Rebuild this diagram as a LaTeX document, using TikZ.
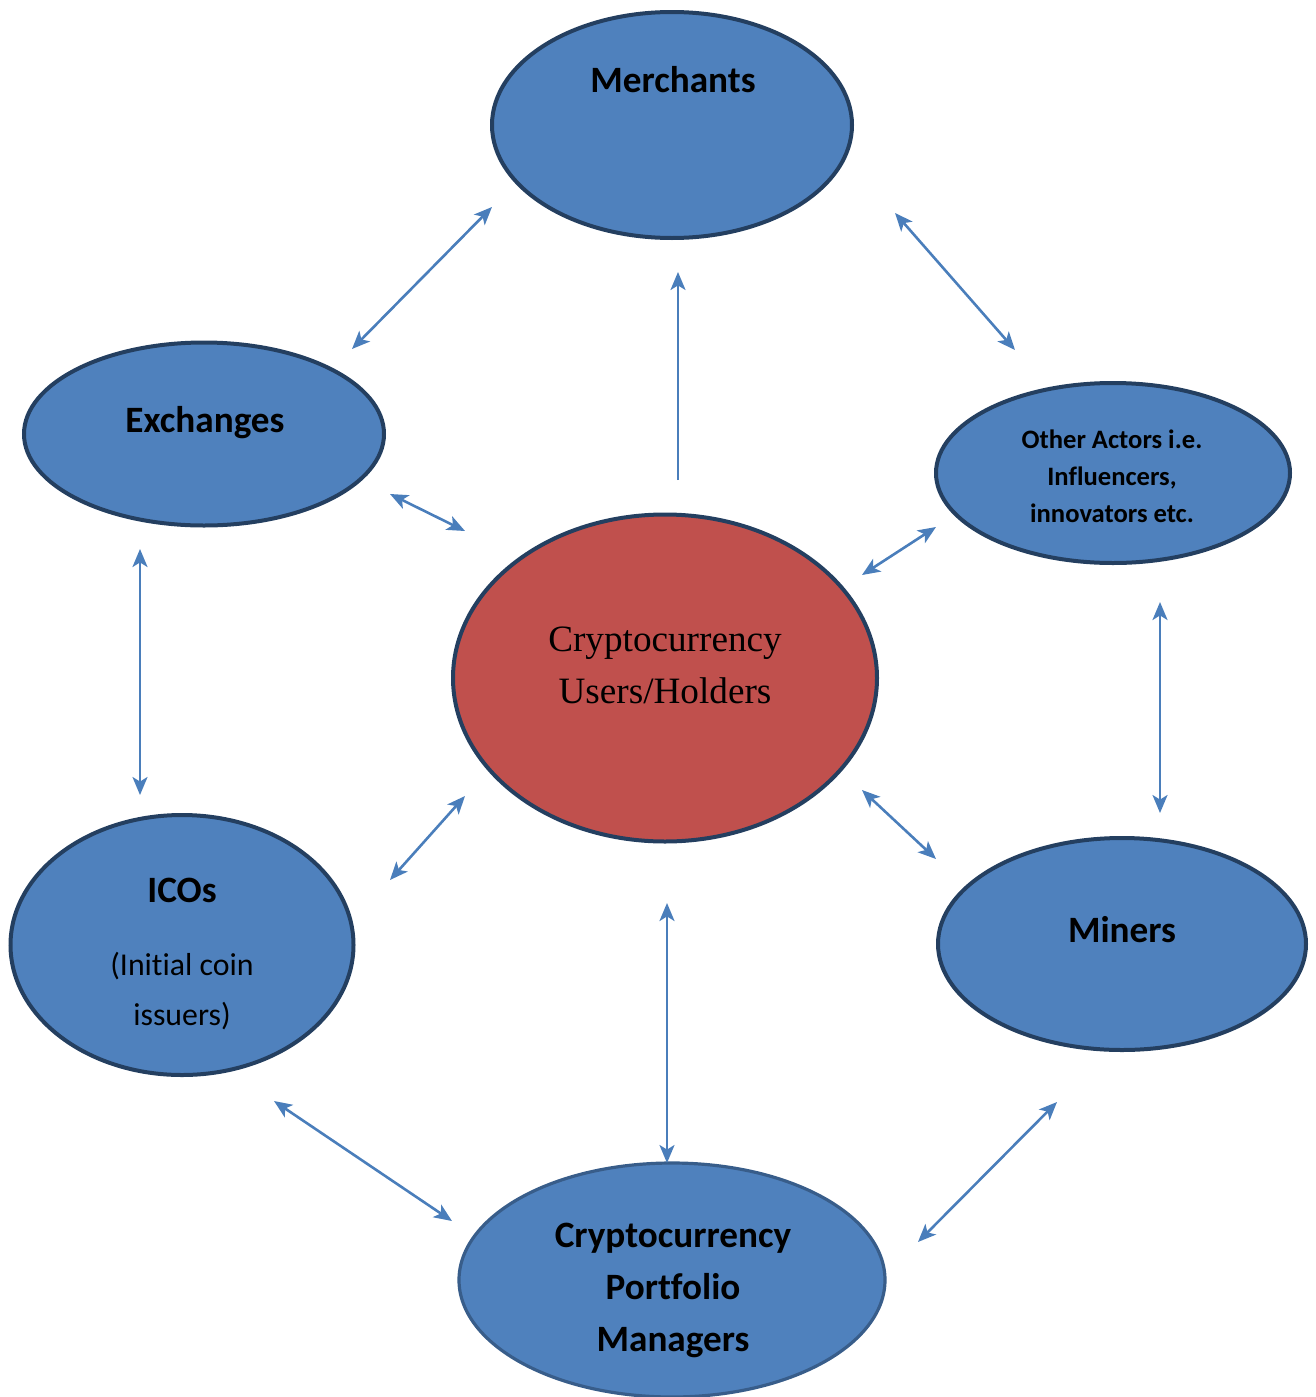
\documentclass[tikz,border=0pt]{standalone}
\usepackage{fontspec}
\setmainfont{Carlito}[Ligatures={NoCommon}]
\newfontfamily\serifcj{Liberation Serif}
\usetikzlibrary{shapes.geometric,arrows.meta}
\definecolor{fillblue}{HTML}{4F81BD}
\definecolor{fillred}{HTML}{C0504D}
\definecolor{edgedark}{HTML}{243F60}
\definecolor{edgemid}{HTML}{385D8A}
\definecolor{arrowblue}{HTML}{4A7EBB}
\tikzset{
  actor/.style={ellipse, draw=edgedark, line width=2pt, fill=fillblue, inner sep=0pt},
  bigtxt/.style={font=\bfseries\fontsize{18.6pt}{26pt}\selectfont, align=center, inner sep=0pt},
  link/.style={draw=arrowblue, line width=1.3pt, {Stealth[length=9pt,width=7.5pt,inset=2.3pt]}-{Stealth[length=9pt,width=7.5pt,inset=2.3pt]}},
  onelink/.style={draw=arrowblue, line width=1.3pt, -{Stealth[length=9pt,width=7.5pt,inset=2.3pt]}}
}
\begin{document}
\begin{tikzpicture}[x=0.5pt,y=-0.5pt]
\useasboundingbox (0,0) rectangle (1316,1397);
% ellipses
\node[actor, minimum width=180pt, minimum height=113pt] (merch) at (672,125) {};
\node[actor, minimum width=180pt, minimum height=91.5pt] (exch) at (204,434) {};
\node[actor, minimum width=177pt, minimum height=90pt] (other) at (1113,473) {};
\node[actor, fill=fillred, minimum width=212pt, minimum height=163.5pt] (users) at (665,678) {};
\node[actor, minimum width=171.5pt, minimum height=130pt] (icos) at (182,945) {};
\node[actor, minimum width=184pt, minimum height=106pt] (miners) at (1122,944) {};
\node[actor, draw=edgemid, line width=1.6pt, minimum width=213pt, minimum height=117pt] (port) at (672,1280) {};
% texts
\node[bigtxt] (tmerch) at (673,80) {Merchants};
\node[bigtxt] (texch) at (205,423) {Exchanges};
\node[font=\bfseries\fontsize{13.3pt}{18.5pt}\selectfont, align=center, inner sep=0pt] (tother) at (1112,476) {Other Actors i.e.\\Influencers,\\innovators etc.};
\node[font=\serifcj\fontsize{18.6pt}{26pt}\selectfont, align=center, inner sep=0pt] (tusers) at (665,665) {Cryptocurrency\\Users/Holders};
\node[bigtxt] (ticos) at (182,890) {ICOs};
\node[font=\fontsize{15.9pt}{25pt}\selectfont, align=center, inner sep=0pt] (ticos2) at (182,991) {(Initial coin\\issuers)};
\node[bigtxt] (tminers) at (1122,930) {Miners};
\node[bigtxt] (tport) at (673,1290) {Cryptocurrency\\Portfolio\\Managers};
% connector end points
\coordinate (a1) at (352,349); \coordinate (a2) at (492,207);
\coordinate (b1) at (895,213); \coordinate (b2) at (1015,350);
\coordinate (c1) at (678,480); \coordinate (c2) at (678,272);
\coordinate (d1) at (390,494); \coordinate (d2) at (465,531);
\coordinate (e1) at (936,527); \coordinate (e2) at (862,575);
\coordinate (f1) at (140,549); \coordinate (f2) at (140,795);
\coordinate (g1) at (1160,602); \coordinate (g2) at (1160,813);
\coordinate (h1) at (390,880); \coordinate (h2) at (465,796);
\coordinate (i1) at (862,790); \coordinate (i2) at (936,859);
\coordinate (j1) at (667,903); \coordinate (j2) at (667,1163);
\coordinate (k1) at (274,1101); \coordinate (k2) at (452,1221);
\coordinate (l1) at (1057,1102); \coordinate (l2) at (918,1242);
\draw[link] (a1) -- (a2);
\draw[link] (b1) -- (b2);
\draw[onelink] (c1) -- (c2);
\draw[link] (d1) -- (d2);
\draw[link] (e1) -- (e2);
\draw[link] (f1) -- (f2);
\draw[link] (g1) -- (g2);
\draw[link] (h1) -- (h2);
\draw[link] (i1) -- (i2);
\draw[link] (j1) -- (j2);
\draw[link] (k1) -- (k2);
\draw[link] (l1) -- (l2);
\end{tikzpicture}
\end{document}
